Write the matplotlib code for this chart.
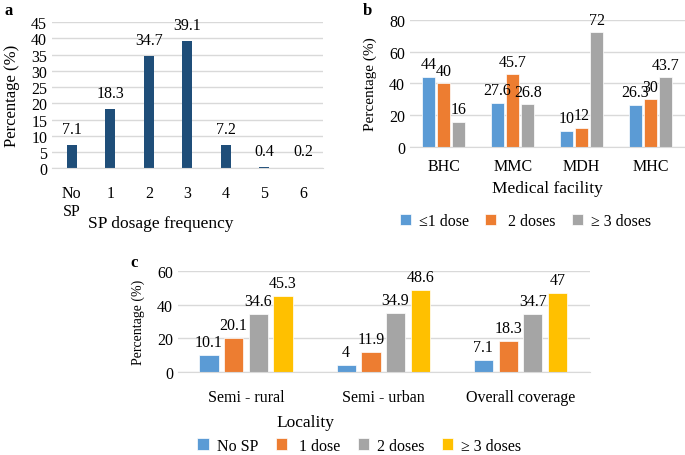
import numpy as np
import matplotlib.pyplot as plt

# panel a
freq_labels = ['No\nSP', '1', '2', '3', '4', '5', '6']
freq_values = [7.1, 18.3, 34.7, 39.1, 7.2, 0.4, 0.2]

# panel b
facilities = ['BHC', 'MMC', 'MDH', 'MHC']
fac_series = ['\u22641 dose', ' 2 doses', '\u2265 3 doses']
fac_le1 = [44, 27.6, 10, 26.3]
fac_2 = [40, 45.7, 12, 30]
fac_ge3 = [16, 26.8, 72, 43.7]

# panel c
localities = ['Semi - rural', 'Semi - urban', 'Overall coverage']
loc_series = ['No SP', ' 1 dose', '2 doses', '\u2265 3 doses']
loc_none = [10.1, 4, 7.1]
loc_1 = [20.1, 11.9, 18.3]
loc_2 = [34.6, 34.9, 34.7]
loc_ge3 = [45.3, 48.6, 47]

plt.rcParams['font.family'] = ['Liberation Serif', 'DejaVu Serif']
plt.rcParams['font.size'] = 11.5

office = ['#5B9BD5', '#ED7D31', '#A5A5A5', '#FFC000']


def style(ax):
    for s in ['top', 'right', 'left']:
        ax.spines[s].set_visible(False)
    ax.spines['bottom'].set_color('#d9d9d9')
    ax.yaxis.grid(True, color='#d9d9d9', linewidth=1)
    ax.set_axisbelow(True)
    ax.tick_params(length=0)


def fmt(v):
    return f'{v:g}'


fig = plt.figure(figsize=(6.85, 4.56), dpi=100)

# ---- a ----
ax = fig.add_axes([0.076, 0.629, 0.395, 0.32])
x = np.arange(len(freq_values))
bars = ax.bar(x, freq_values, width=0.26, color='#1F4E79')
for b, v in zip(bars, freq_values):
    ax.text(b.get_x() + b.get_width() / 2, v + 2.5, fmt(v), ha='center', va='bottom')
ax.set_xticks(x)
ax.set_xticklabels(freq_labels, va='top')
ax.set_xlim(-0.51, 6.51)
ax.set_ylim(0, 45)
ax.set_yticks(range(0, 50, 5))
style(ax)
ax.tick_params(axis='x', pad=12)
ax.set_ylabel('Percentage (%)', fontsize=12)
ax.yaxis.set_label_coords(-0.12, 0.5)
ax.set_xlabel('SP dosage frequency', fontsize=12.5)
ax.xaxis.set_label_coords(0.4, -0.32)
fig.text(0.006, 0.975, 'a', fontweight='bold', fontsize=12, va='center')

# ---- b ----
ax = fig.add_axes([0.5985, 0.6754, 0.4015, 0.2792])
x = np.arange(len(facilities))
step = 0.22
for i, (vals, name) in enumerate(zip([fac_le1, fac_2, fac_ge3], fac_series)):
    bars = ax.bar(x + (i - 1) * step, vals, width=0.19, color=office[i], label=name,
                  edgecolor='white', linewidth=0.5)
    for b, v in zip(bars, vals):
        ax.text(b.get_x() + b.get_width() / 2, v + 3, fmt(v), ha='center', va='bottom')
ax.set_xticks(x)
ax.set_xticklabels(facilities)
ax.set_xlim(-0.49, 3.5)
ax.set_ylim(0, 80)
ax.set_yticks(range(0, 100, 20))
style(ax)
ax.tick_params(axis='x', pad=8)
ax.set_ylabel('Percentage (%)', fontsize=11)
ax.yaxis.set_label_coords(-0.12, 0.5)
ax.set_xlabel('Medical facility', fontsize=12.5)
ax.xaxis.set_label_coords(0.5, -0.26)
ax.legend(loc='center', bbox_to_anchor=(0.42, -0.58), ncol=3, frameon=False,
          handlelength=0.7, handleheight=0.7, columnspacing=1.0, handletextpad=0.5,
          fontsize=11.5)
fig.text(0.53, 0.975, 'b', fontweight='bold', fontsize=12, va='center')

# ---- c ----
ax = fig.add_axes([0.26, 0.182, 0.601, 0.2209])
x = np.arange(len(localities))
step = 0.18
for i, (vals, name) in enumerate(zip([loc_none, loc_1, loc_2, loc_ge3], loc_series)):
    bars = ax.bar(x + (i - 1.5) * step, vals, width=0.14, color=office[i], label=name,
                  edgecolor='white', linewidth=0.5)
    for b, v in zip(bars, vals):
        ax.text(b.get_x() + b.get_width() / 2, v + 3, fmt(v), ha='center', va='bottom')
ax.set_xticks(x)
ax.set_xticklabels(localities)
ax.set_xlim(-0.495, 2.505)
ax.set_ylim(0, 60)
ax.set_yticks(range(0, 80, 20))
style(ax)
ax.tick_params(axis='x', pad=12)
ax.set_ylabel('Percentage (%)', fontsize=10)
ax.yaxis.set_label_coords(-0.08, 0.5)
ax.set_xlabel('Locality', fontsize=12.5)
ax.xaxis.set_label_coords(0.31, -0.42)
ax.legend(loc='center', bbox_to_anchor=(0.44, -0.73), ncol=4, frameon=False,
          handlelength=0.7, handleheight=0.7, columnspacing=1.1, handletextpad=0.5,
          fontsize=11.5)
fig.text(0.191, 0.423, 'c', fontweight='bold', fontsize=12, va='center')

fig.savefig('out.png', dpi=100)
